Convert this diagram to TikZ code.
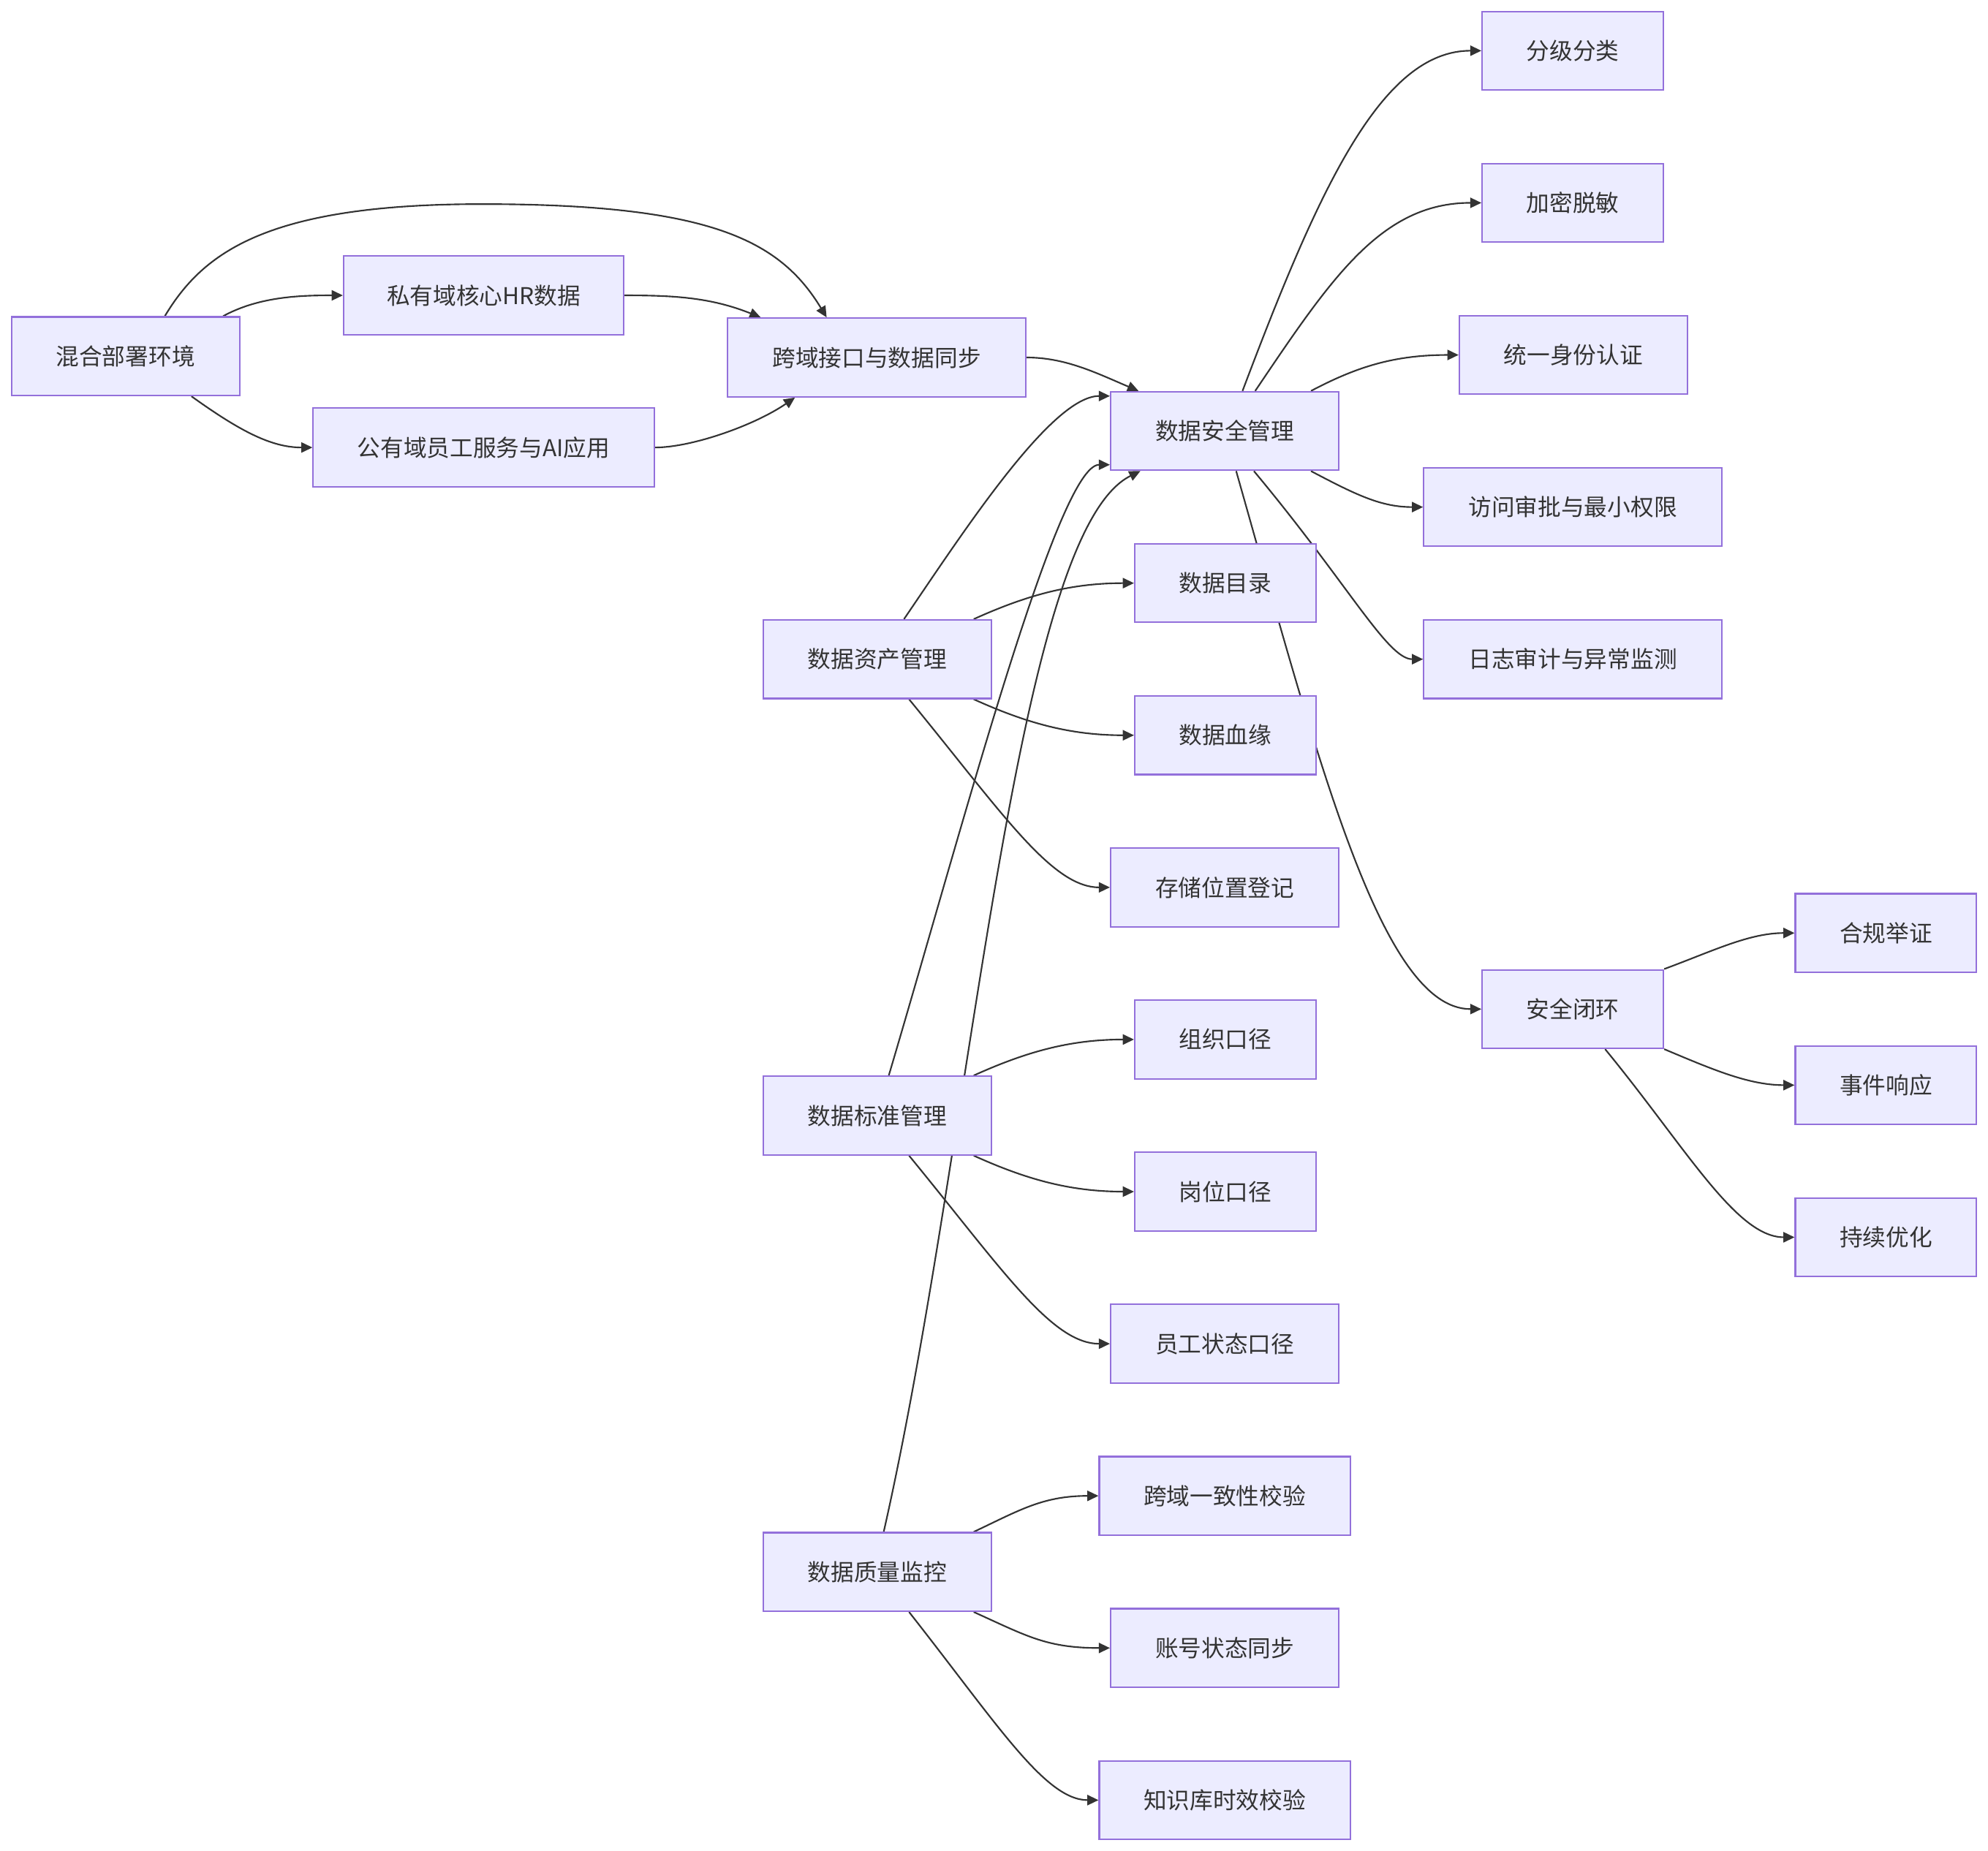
\documentclass[tikz,border=0pt]{standalone}
\usepackage{fontspec}
\setmainfont{Noto Sans CJK SC}
\usetikzlibrary{arrows.meta,calc,backgrounds}
\definecolor{nodefill}{HTML}{ECECFF}
\definecolor{nodeline}{HTML}{9370DB}
\definecolor{edgecol}{HTML}{333333}
\begin{document}
\begin{tikzpicture}[x=0.02cm,y=-0.02cm,
  box/.style={draw=nodeline, fill=nodefill, line width=0.7pt, minimum height=1.24cm,
    inner sep=0pt, text=edgecol, font=\fontsize{10.4pt}{12pt}\selectfont},
  conn/.style={draw=edgecol, line width=0.7pt, -{Triangle[length=5pt,width=4.6pt]}}]
\useasboundingbox (0,0) rectangle (1568,1460);
% nodes
\node[box, minimum width=3.6cm]  (h1) at (99,281)    {混合部署环境};
\node[box, minimum width=4.42cm] (p1) at (381.5,233) {私有域核心HR数据};
\node[box, minimum width=5.38cm] (p2) at (381.5,353) {公有域员工服务与AI应用};
\node[box, minimum width=4.7cm]  (x1) at (691.5,282) {跨域接口与数据同步};
\node[box, minimum width=3.6cm]  (s)  at (966,340)   {数据安全管理};
\node[box, minimum width=3.6cm]  (a)  at (692,520)   {数据资产管理};
\node[box, minimum width=3.6cm]  (b)  at (692,880)   {数据标准管理};
\node[box, minimum width=3.6cm]  (q)  at (692,1240)  {数据质量监控};
\node[box, minimum width=2.86cm] (s1) at (1240.5,40)  {分级分类};
\node[box, minimum width=2.86cm] (s2) at (1240.5,160) {加密脱敏};
\node[box, minimum width=3.6cm]  (s3) at (1241,280)   {统一身份认证};
\node[box, minimum width=4.7cm]  (s4) at (1240.5,400) {访问审批与最小权限};
\node[box, minimum width=4.7cm]  (s5) at (1240.5,520) {日志审计与异常监测};
\node[box, minimum width=2.86cm] (a1) at (966.5,460) {数据目录};
\node[box, minimum width=2.86cm] (a2) at (966.5,580) {数据血缘};
\node[box, minimum width=3.6cm]  (a3) at (966,700)   {存储位置登记};
\node[box, minimum width=2.86cm] (b1) at (966.5,820) {组织口径};
\node[box, minimum width=2.86cm] (b2) at (966.5,940) {岗位口径};
\node[box, minimum width=3.6cm]  (b3) at (966,1060)  {员工状态口径};
\node[box, minimum width=3.96cm] (q1) at (966,1180)  {跨域一致性校验};
\node[box, minimum width=3.6cm]  (q2) at (966,1300)  {账号状态同步};
\node[box, minimum width=3.96cm] (q3) at (966,1420)  {知识库时效校验};
\node[box, minimum width=2.86cm] (c)  at (1240.5,796) {安全闭环};
\node[box, minimum width=2.86cm] (c1) at (1487.5,736) {合规举证};
\node[box, minimum width=2.86cm] (c2) at (1487.5,856) {事件响应};
\node[box, minimum width=2.86cm] (c3) at (1487.5,976) {持续优化};
% connectors
\begin{scope}[on background layer]
\draw[conn] ($(h1.north)+(77,0)$) .. controls +(29,-16) and +(-31,0) .. (p1.west);
\draw[conn] ($(h1.south)+(52,0)$) .. controls +(39,28) and +(-32,0) .. (p2.west);
\coordinate (top) at (380,161);
\draw[conn] ($(h1.north)+(31,0)$) .. controls +(30,-50) and +(-170,0) .. (top)
   .. controls +(180,0) and +(-37,-61) .. ($(x1.north)+(-39.5,0)$);
\draw[conn] (p1.east) .. controls +(38,0) and +(-40,-16) .. ($(x1.north)+(-91.5,0)$);
\draw[conn] (p2.east) .. controls +(29,0) and +(-32,22) .. ($(x1.south)+(-64.5,0)$);
\draw[conn] (x1.east) .. controls +(31,0) and +(-33,-14) .. ($(s.north)+(-68,0)$);
\draw[conn] ($(a.north)+(21,0)$) .. controls +(47,-69) and +(-46,0) .. ($(s.north west)+(0,4)$);
\draw[conn] ($(b.north)+(9,0)$) .. controls +(59,-199) and +(-41,0) .. ($(s.south west)+(0,-5)$);
\draw[conn] ($(q.north)+(5,0)$) .. controls +(70,-309) and +(-100,49) .. ($(s.south west)+(24,0)$);
\draw[conn] ($(s.north)+(14,0)$) .. controls +(60,-159) and +(-79,0) .. (s1.west);
\draw[conn] ($(s.north)+(24,0)$) .. controls +(60,-89) and +(-79,0) .. (s2.west);
\draw[conn] ($(s.north)+(68,0)$) .. controls +(36,-19) and +(-51,0) .. (s3.west);
\draw[conn] ($(s.south)+(68,0)$) .. controls +(36,19) and +(-33,0) .. (s4.west);
\draw[conn] ($(s.south)+(23,0)$) .. controls +(75,90) and +(-28,0) .. (s5.west);
\draw[conn] ($(s.south)+(9,0)$) .. controls +(65,229) and +(-79,0) .. (c.west);
\draw[conn] ($(a.north)+(76,0)$) .. controls +(42,-19) and +(-50,0) .. (a1.west);
\draw[conn] ($(a.south)+(76,0)$) .. controls +(42,19) and +(-50,0) .. (a2.west);
\draw[conn] ($(a.south)+(25,0)$) .. controls +(73,89) and +(-46,0) .. (a3.west);
\draw[conn] ($(b.north)+(76,0)$) .. controls +(42,-19) and +(-50,0) .. (b1.west);
\draw[conn] ($(b.south)+(76,0)$) .. controls +(42,19) and +(-50,0) .. (b2.west);
\draw[conn] ($(b.south)+(25,0)$) .. controls +(73,89) and +(-46,0) .. (b3.west);
\draw[conn] ($(q.north)+(76,0)$) .. controls +(36,-17) and +(-44,0) .. (q1.west);
\draw[conn] ($(q.south)+(76,0)$) .. controls +(42,19) and +(-50,0) .. (q2.west);
\draw[conn] ($(q.south)+(25,0)$) .. controls +(70,89) and +(-42,0) .. (q3.west);
\draw[conn] (c.north east) .. controls +(38,-14) and +(-36,0) .. (c1.west);
\draw[conn] (c.south east) .. controls +(38,16) and +(-36,0) .. (c2.west);
\draw[conn] ($(c.south)+(25.5,0)$) .. controls +(64,78) and +(-46,0) .. (c3.west);
\end{scope}
\end{tikzpicture}
\end{document}
